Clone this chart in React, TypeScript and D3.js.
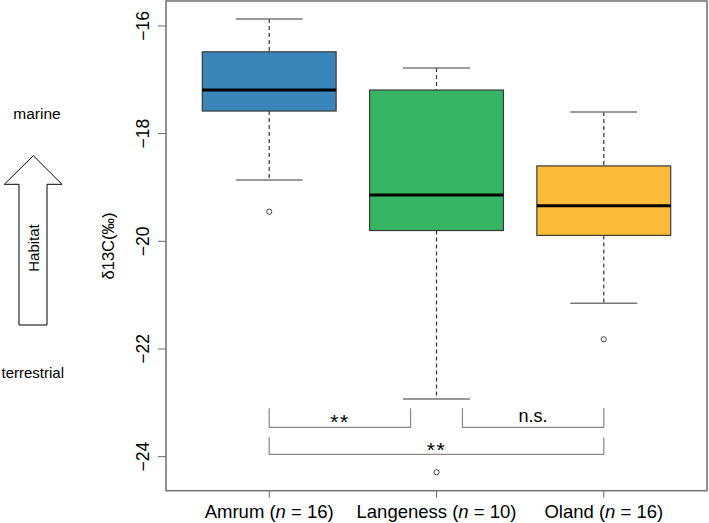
import React from "react";
import * as d3 from "d3";

const categories = ["Amrum", "Langeness", "Oland"];
const sampleSizes = [16, 10, 16];
const whiskerHigh = [-15.87, -16.78, -17.6];
const q3 = [-16.48, -17.19, -18.6];
const medians = [-17.19, -19.14, -19.34];
const q1 = [-17.58, -19.8, -19.89];
const whiskerLow = [-18.86, -22.93, -21.15];
const outliers = [[-19.45], [-24.29], [-21.82]];
const fills = ["#3A86BA", "#36B562", "#FDBB3A"];
const yTicks = [-16, -18, -20, -22, -24];
// significance brackets
const bracketFrom = [0, 1, 0];
const bracketTo = [1, 2, 2];
const bracketTop = [-23.1, -23.1, -23.64];
const bracketBottom = [-23.455, -23.455, -23.96];
const bracketLabels = ["**", "n.s.", "**"];

const W = 709;
const H = 523;
const left = 166;
const right = 707;
const top = 1;
const bottom = 490.7;
const font = "'Liberation Sans', Arial, sans-serif";

export default function App() {
  const x = d3.scaleLinear().domain([0.383, 3.617]).range([left, right]);
  const y = d3.scaleLinear().domain([-24.633, -15.536]).range([bottom, top]);
  const boxHalf = 0.4;
  const capHalf = 0.2;
  const gap = 0.155;

  return (
    <svg
      width={W}
      height={H}
      style={{ position: "absolute", left: 0, top: 0, background: "#fff" }}
      fontFamily={font}
    >
      {/* left annotation */}
      <text x={37} y={118.5} fontSize={15.5} textAnchor="middle" fill="#000">
        marine
      </text>
      <path
        d="M33.3,155.7 L62,184.3 L47,184.3 L47,325 L19,325 L19,184.3 L4.3,184.3 Z"
        fill="#fff"
        stroke="#000"
        strokeWidth={1}
      />
      <text
        transform="translate(38.5,248) rotate(-90)"
        fontSize={15}
        textAnchor="middle"
        fill="#000"
      >
        Habitat
      </text>
      <text x={64} y={377.5} fontSize={15} textAnchor="end" fill="#000">
        terrestrial
      </text>

      {/* y axis label */}
      <text
        transform="translate(114,246) rotate(-90)"
        fontSize={16.5}
        textAnchor="middle"
        fill="#000"
      >
        δ13C(‰)
      </text>

      {/* y ticks */}
      {yTicks.map((t) => (
        <g key={t}>
          <line x1={158} x2={left} y1={y(t)} y2={y(t)} stroke="#666" strokeWidth={1} />
          <text
            transform={`translate(148.5,${y(t)}) rotate(-90)`}
            fontSize={17.5}
            textAnchor="middle"
            fill="#000"
          >
            {"\u2212" + Math.abs(t)}
          </text>
        </g>
      ))}

      {/* x ticks & labels */}
      {categories.map((c, i) => (
        <g key={c}>
          <line x1={x(i + 1)} x2={x(i + 1)} y1={bottom} y2={bottom + 7} stroke="#666" strokeWidth={1} />
          <text x={x(i + 1)} y={518} fontSize={18.5} textAnchor="middle" fill="#000">
            {c + " ("}
            <tspan fontStyle="italic">n</tspan>
            {" = " + sampleSizes[i] + ")"}
          </text>
        </g>
      ))}

      {/* boxes */}
      {categories.map((c, i) => {
        const cx = x(i + 1);
        const bx0 = x(i + 1 - boxHalf);
        const bx1 = x(i + 1 + boxHalf);
        const cx0 = x(i + 1 - capHalf);
        const cx1 = x(i + 1 + capHalf);
        return (
          <g key={c}>
            <line x1={cx} x2={cx} y1={y(whiskerHigh[i])} y2={y(q3[i])} stroke="#333" strokeWidth={1.2} strokeDasharray="4,3" />
            <line x1={cx} x2={cx} y1={y(q1[i])} y2={y(whiskerLow[i])} stroke="#333" strokeWidth={1.2} strokeDasharray="4,3" />
            <line x1={cx0} x2={cx1} y1={y(whiskerHigh[i])} y2={y(whiskerHigh[i])} stroke="#777" strokeWidth={1.5} />
            <line x1={cx0} x2={cx1} y1={y(whiskerLow[i])} y2={y(whiskerLow[i])} stroke="#777" strokeWidth={1.5} />
            <rect
              x={bx0}
              y={y(q3[i])}
              width={bx1 - bx0}
              height={y(q1[i]) - y(q3[i])}
              fill={fills[i]}
              stroke="#3a3a3a"
              strokeWidth={1.2}
            />
            <line x1={bx0} x2={bx1} y1={y(medians[i])} y2={y(medians[i])} stroke="#000" strokeWidth={3} />
            {outliers[i].map((o, j) => (
              <circle key={j} cx={cx} cy={y(o)} r={2.6} fill="#fff" stroke="#444" strokeWidth={1} />
            ))}
          </g>
        );
      })}

      {/* significance brackets */}
      {bracketLabels.map((lab, k) => {
        const a = bracketFrom[k] + 1;
        const b = bracketTo[k] + 1;
        const isAdjacent = b - a === 1;
        const xa = isAdjacent && bracketFrom[k] === 1 ? x(a + gap) : x(a);
        const xb = isAdjacent && bracketFrom[k] === 0 ? x(b - gap) : x(b);
        const yt = y(bracketTop[k]);
        const yb = y(bracketBottom[k]);
        const mid = (yt + yb) / 2;
        const star = lab === "**";
        return (
          <g key={k}>
            <path
              d={`M${xa},${yt} L${xa},${yb} L${xb},${yb} L${xb},${yt}`}
              fill="none"
              stroke="#888"
              strokeWidth={1.2}
            />
            <text
              x={(xa + xb) / 2}
              y={star ? mid + 11 : mid + 4}
              fontSize={star ? 21 : 18}
              letterSpacing={star ? 1.5 : 0}
              textAnchor="middle"
              fill="#000"
            >
              {lab}
            </text>
          </g>
        );
      })}

      {/* frame */}
      <rect x={left} y={top} width={right - left} height={bottom - top} fill="none" stroke="#777" strokeWidth={1.6} />
    </svg>
  );
}
